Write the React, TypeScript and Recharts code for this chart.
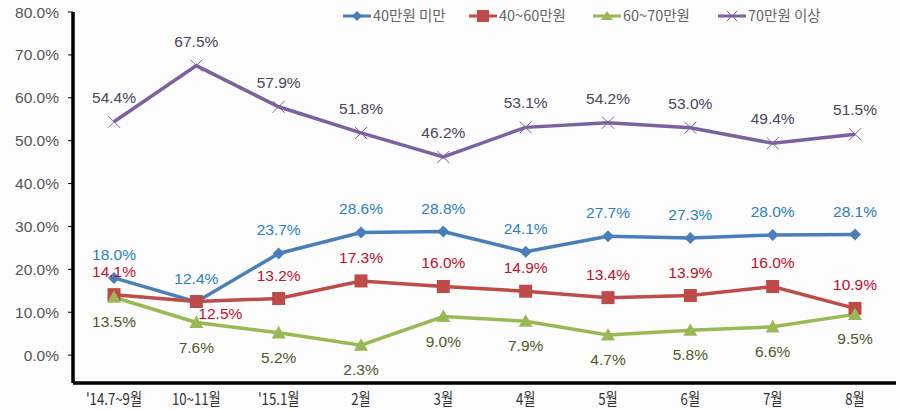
import React from "react";
import { LineChart, Line, XAxis, YAxis, Legend, LabelList } from "recharts";

const categories = ["'14.7~9월", "10~11월", "'15.1월", "2월", "3월", "4월", "5월", "6월", "7월", "8월"];
const under40 = [18.0, 12.4, 23.7, 28.6, 28.8, 24.1, 27.7, 27.3, 28.0, 28.1];
const from40to60 = [14.1, 12.5, 13.2, 17.3, 16.0, 14.9, 13.4, 13.9, 16.0, 10.9];
const from60to70 = [13.5, 7.6, 5.2, 2.3, 9.0, 7.9, 4.7, 5.8, 6.6, 9.5];
const over70 = [54.4, 67.5, 57.9, 51.8, 46.2, 53.1, 54.2, 53.0, 49.4, 51.5];
const yTicks = [0, 10, 20, 30, 40, 50, 60, 70, 80];

const seriesNames = ["40만원 미만", "40~60만원", "60~70만원", "70만원 이상"];
const lineColors = ["#4a7ebb", "#be4b48", "#98b954", "#7d60a0"];
const labelColors = ["#2b82c0", "#c0102a", "#4f5a28", "#4a4560"];

const data = categories.map((c, i) => ({
  cat: c,
  a: under40[i],
  b: from40to60[i],
  c: from60to70[i],
  d: over70[i],
}));

const FONT = "'Noto Sans CJK KR', 'Noto Sans', sans-serif";
const NUMFONT = "'Liberation Sans', Arial, sans-serif";

const Diamond = (props: any) => {
  const { cx, cy } = props;
  if (cx == null || cy == null) return null;
  const r = 6;
  return <path d={`M${cx},${cy - r}L${cx + r},${cy}L${cx},${cy + r}L${cx - r},${cy}Z`} fill={lineColors[0]} />;
};
const Square = (props: any) => {
  const { cx, cy } = props;
  if (cx == null || cy == null) return null;
  const r = 6.5;
  return <rect x={cx - r} y={cy - r} width={2 * r} height={2 * r} fill={lineColors[1]} />;
};
const Triangle = (props: any) => {
  const { cx, cy } = props;
  if (cx == null || cy == null) return null;
  const r = 7;
  return <path d={`M${cx},${cy - r}L${cx + r},${cy + r * 0.8}L${cx - r},${cy + r * 0.8}Z`} fill={lineColors[2]} />;
};
const Cross = (props: any) => {
  const { cx, cy } = props;
  if (cx == null || cy == null) return null;
  const r = 6;
  return (
    <path d={`M${cx - r},${cy - r}L${cx + r},${cy + r}M${cx + r},${cy - r}L${cx - r},${cy + r}`} stroke={lineColors[3]} strokeWidth={1} />
  );
};

const makeLabel = (series: number) => (props: any) => {
  const { x, y, value, index } = props;
  let dx = 0;
  let dy = -18;
  if (series === 3) dy = -19;
  if (series === 2) dy = 30;
  if (series === 1 && index === 1) {
    dx = 24;
    dy = 17;
  }
  return (
    <text x={x + dx} y={y + dy} textAnchor="middle" fill={labelColors[series]} fontSize={15.5} fontFamily={NUMFONT}>
      {value.toFixed(1)}%
    </text>
  );
};

const legendMarkers = [
  (x: number, y: number) => <path d={`M${x},${y - 5}L${x + 5},${y}L${x},${y + 5}L${x - 5},${y}Z`} fill={lineColors[0]} />,
  (x: number, y: number) => <rect x={x - 6} y={y - 6} width={12} height={12} fill={lineColors[1]} />,
  (x: number, y: number) => <path d={`M${x},${y - 5}L${x + 6},${y + 4}L${x - 6},${y + 4}Z`} fill={lineColors[2]} />,
  (x: number, y: number) => (
    <path d={`M${x - 5},${y - 5}L${x + 5},${y + 5}M${x + 5},${y - 5}L${x - 5},${y + 5}`} stroke={lineColors[3]} strokeWidth={1} />
  ),
];
const legendX = [343, 469, 593, 718];

const renderLegend = () => (
  <div style={{ height: 0, overflow: "visible", position: "relative" }}>
    <svg width={900} height={34} style={{ position: "absolute", left: 0, top: 0, overflow: "visible" }}>
      {seriesNames.map((n, i) => (
        <g key={n}>
          <line x1={legendX[i]} x2={legendX[i] + 28} y1={16} y2={16} stroke={lineColors[i]} strokeWidth={3} />
          {legendMarkers[i](legendX[i] + 14, 16)}
          <text x={legendX[i] + 30} y={21} fontSize={14.5} fill="#666" fontFamily={FONT}>
            {n}
          </text>
        </g>
      ))}
    </svg>
  </div>
);

const XTick = (props: any) => {
  const { x, y, payload } = props;
  return (
    <text
      x={0}
      y={0}
      transform={`translate(${x},${y + 14}) scale(0.8,1)`}
      textAnchor="middle"
      fontSize={16.5}
      fill="#333"
      fontFamily={FONT}
    >
      {payload.value}
    </text>
  );
};

export default function App() {
  const keys = ["a", "b", "c", "d"];
  const dots = [Diamond, Square, Triangle, Cross];
  return (
    <div style={{ position: "absolute", left: 0, top: 0, width: 900, height: 410, background: "#fcfcfc" }}>
      <LineChart width={900} height={410} data={data} margin={{ top: 12, right: 4, bottom: 0, left: 0 }}>
        <XAxis
          dataKey="cat"
          axisLine={{ stroke: "#000", strokeWidth: 3.5 }}
          tickLine={false}
          height={27}
          padding={{ left: 41, right: 41 }}
          interval={0}
          tick={XTick}
        />
        <YAxis
          type="number"
          domain={[-6.5, 80]}
          ticks={yTicks}
          width={73}
          axisLine={{ stroke: "#000", strokeWidth: 3.5 }}
          tickLine={{ stroke: "#000", strokeWidth: 1 }}
          tickSize={5}
          tickMargin={9}
          tickFormatter={(v: number) => `${v.toFixed(1)}%`}
          tick={{ fontSize: 15.5, fill: "#555", fontFamily: NUMFONT }}
          allowDataOverflow
        />
        <Legend verticalAlign="top" content={renderLegend} wrapperStyle={{ top: 0, left: 0, width: 900 }} />
        {keys.map((k, i) => (
          <Line
            key={k}
            dataKey={k}
            name={seriesNames[i]}
            stroke={lineColors[i]}
            strokeWidth={3.5}
            dot={dots[i]}
            activeDot={false}
            isAnimationActive={false}
          >
            <LabelList dataKey={k} content={makeLabel(i)} />
          </Line>
        ))}
      </LineChart>
    </div>
  );
}
